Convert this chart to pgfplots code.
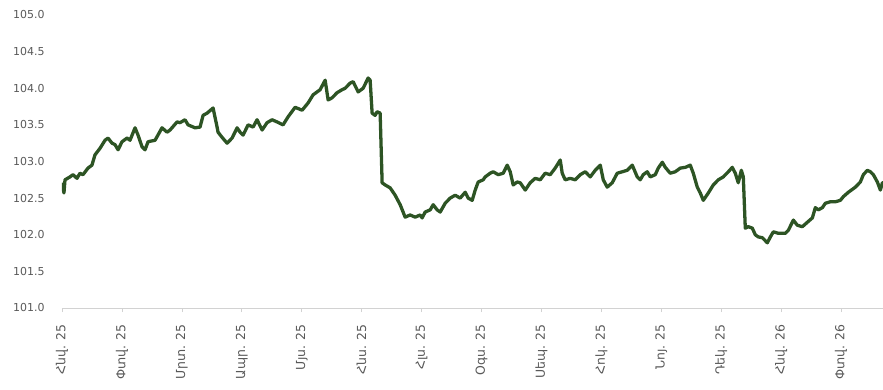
\documentclass[border=0pt]{standalone}
\usepackage{fontspec}
\setmainfont{DejaVu Sans}
\usepackage{pgfplots}
\pgfplotsset{compat=1.18}
\definecolor{linegreen}{RGB}{45,84,36}
\definecolor{labgray}{RGB}{89,89,89}
\definecolor{axgray}{RGB}{210,210,210}
\begin{document}
\begin{tikzpicture}
\begin{axis}[
  scale only axis,
  width=821bp, height=293bp,
  xmin=0, xmax=13.7, ymin=101, ymax=105,
  axis x line*=bottom, axis y line*=left,
  x axis line style={draw=axgray, line width=0.8pt, -},
  y axis line style={draw=none},
  xtick={0,...,13},
  xticklabels={Հնվ. 25,Փտվ. 25,Մրտ. 25,Ապր. 25,Մյս. 25,Հնս. 25,Հլս. 25,Օգս. 25,Սեպ. 25,Հոկ. 25,Նոյ. 25,Դեկ. 25,Հնվ. 26,Փտվ. 26},
  xticklabel style={yshift=-9bp, rotate=90, anchor=east, font=\fontsize{12.5}{14}\selectfont, text=labgray},
  x tick style={draw=axgray, line width=0.6pt},
  tick align=outside, major tick length=4bp,
  ytick={101,101.5,...,105},
  yticklabel style={text=labgray, font=\fontsize{11}{13}\selectfont, xshift=-10bp},
  y tick style={draw=none},
  yticklabel={\pgfmathprintnumber[fixed,fixed zerofill,precision=1]{\tick}},
  /pgf/number format/assume math mode=true,
  clip=true,
]
\addplot[linegreen, line width=3.3pt, line join=round, no marks] coordinates {
(0,102.71)(0.033,102.57)(0.05,102.75)(0.134,102.79)(0.184,102.82)(0.25,102.77)(0.30,102.84)(0.35,102.82)
(0.434,102.91)(0.50,102.95)(0.55,103.09)(0.634,103.18)(0.718,103.29)(0.768,103.32)(0.835,103.25)(0.885,103.23)
(0.935,103.16)(1.002,103.27)(1.085,103.32)(1.135,103.29)(1.219,103.46)(1.269,103.36)(1.336,103.20)(1.386,103.16)
(1.436,103.27)(1.553,103.29)(1.669,103.46)(1.753,103.40)(1.803,103.43)(1.920,103.54)(1.970,103.53)(2.053,103.57)
(2.104,103.50)(2.220,103.46)(2.304,103.47)(2.354,103.63)(2.421,103.66)(2.521,103.73)(2.588,103.47)(2.604,103.40)
(2.671,103.33)(2.755,103.25)(2.838,103.32)(2.922,103.46)(2.972,103.40)(3.022,103.36)(3.105,103.50)(3.189,103.47)
(3.255,103.57)(3.339,103.43)(3.422,103.53)(3.506,103.57)(3.589,103.54)(3.689,103.50)(3.773,103.61)(3.890,103.74)
(4.007,103.70)(4.107,103.80)(4.190,103.91)(4.307,103.98)(4.391,104.11)(4.441,103.84)(4.508,103.87)(4.591,103.94)
(4.674,103.98)(4.725,104.00)(4.808,104.07)(4.858,104.09)(4.942,103.95)(5.025,104.00)(5.109,104.14)(5.142,104.11)
(5.175,103.66)(5.225,103.63)(5.259,103.68)(5.309,103.66)(5.342,102.71)(5.392,102.68)(5.476,102.64)(5.559,102.54)
(5.643,102.41)(5.726,102.24)(5.810,102.27)(5.893,102.24)(5.977,102.27)(6.010,102.23)(6.060,102.31)(6.144,102.34)
(6.194,102.41)(6.260,102.34)(6.311,102.31)(6.394,102.43)(6.477,102.50)(6.561,102.54)(6.644,102.50)(6.728,102.58)
(6.778,102.50)(6.845,102.47)(6.895,102.61)(6.945,102.72)(7.028,102.75)(7.062,102.79)(7.145,102.84)(7.195,102.86)
(7.279,102.82)(7.362,102.84)(7.429,102.95)(7.479,102.86)(7.529,102.68)(7.596,102.72)(7.646,102.71)(7.730,102.61)
(7.813,102.71)(7.896,102.77)(7.980,102.75)(8.063,102.84)(8.147,102.82)(8.230,102.91)(8.314,103.02)(8.347,102.84)
(8.397,102.75)(8.481,102.77)(8.564,102.75)(8.648,102.82)(8.731,102.86)(8.815,102.79)(8.898,102.88)(8.982,102.95)
(9.032,102.75)(9.098,102.65)(9.182,102.71)(9.265,102.84)(9.349,102.86)(9.432,102.88)(9.516,102.95)(9.599,102.79)
(9.649,102.75)(9.699,102.82)(9.766,102.86)(9.816,102.79)(9.900,102.82)(9.950,102.91)(10.017,102.99)(10.067,102.92)
(10.150,102.84)(10.234,102.86)(10.317,102.91)(10.401,102.92)(10.484,102.95)(10.534,102.84)(10.601,102.65)(10.651,102.57)
(10.701,102.47)(10.785,102.57)(10.868,102.68)(10.952,102.75)(11.035,102.79)(11.119,102.86)(11.185,102.92)(11.235,102.84)
(11.285,102.71)(11.336,102.88)(11.369,102.79)(11.402,102.09)(11.452,102.11)(11.519,102.09)(11.569,102.00)(11.619,101.97)
(11.686,101.96)(11.770,101.89)(11.820,101.97)(11.870,102.04)(11.953,102.02)(12.070,102.02)(12.120,102.06)(12.204,102.20)
(12.270,102.13)(12.354,102.11)(12.437,102.17)(12.521,102.23)(12.571,102.37)(12.621,102.34)(12.688,102.37)(12.738,102.43)
(12.821,102.45)(12.905,102.45)(12.988,102.47)(13.038,102.52)(13.122,102.58)(13.239,102.65)(13.322,102.72)(13.372,102.82)
(13.439,102.88)(13.489,102.86)(13.539,102.82)(13.606,102.72)(13.656,102.61)(13.690,102.71)(13.70,102.71)
};
\end{axis}
\pgfresetboundingbox
\path[use as bounding box] (-62bp,-82bp) rectangle (821bp,308bp);
\end{tikzpicture}
\end{document}
